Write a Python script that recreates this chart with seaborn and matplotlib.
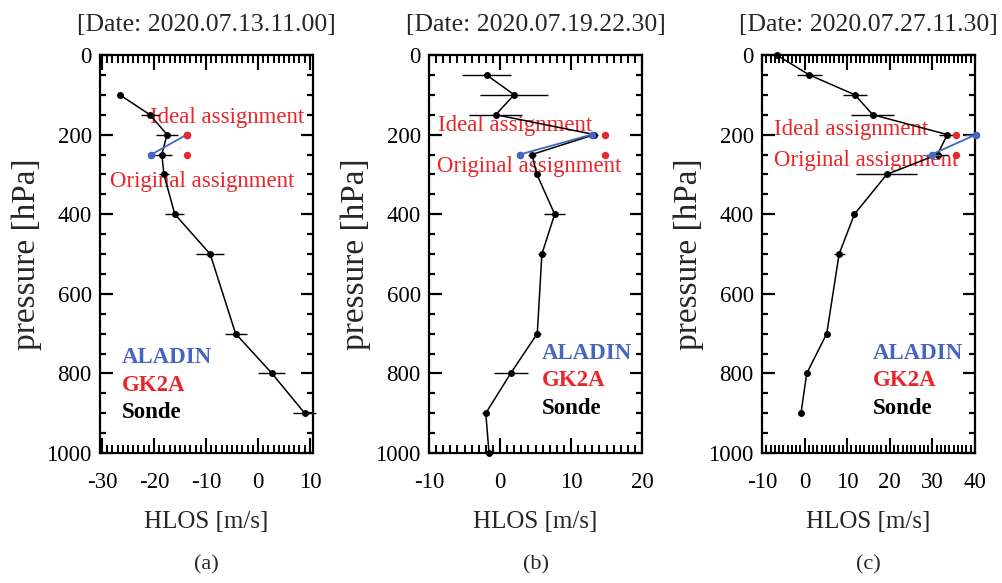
import matplotlib
matplotlib.use("Agg")
import matplotlib.pyplot as plt
import seaborn as sns
import numpy as np
import pandas as pd

# ---------------- data ----------------
titles = ["[Date: 2020.07.13.11.00]", "[Date: 2020.07.19.22.30]", "[Date: 2020.07.27.11.30]"]
panel_tags = ["(a)", "(b)", "(c)"]
legend_labels = ["ALADIN", "GK2A", "Sonde"]
note_ideal = "Ideal assignment"
note_orig = "Original assignment"
xlabel_text = "HLOS [m/s]"
ylabel_text = "pressure [hPa]"
pressure_ticks = [0, 200, 400, 600, 800, 1000]

# panel (a)
sonde_a_p = [100, 150, 200, 250, 300, 400, 500, 700, 800, 900]
sonde_a_v = [-26.6, -20.8, -17.5, -18.5, -18.1, -16.0, -9.2, -4.3, 2.7, 9.0]
sonde_a_e = [0.0, 1.75, 2.1, 1.9, 1.0, 1.8, 2.7, 2.1, 2.6, 2.2]
aladin_a_p = [250, 200]
aladin_a_v = [-20.5, -13.7]
aladin_a_e = [0.0, 0.0]
gk2a_a_p = [200, 250]
gk2a_a_v = [-13.6, -13.6]
xticks_a = [-30, -20, -10, 0, 10]

# panel (b)
sonde_b_p = [50, 100, 150, 200, 250, 300, 400, 500, 700, 800, 900, 1000]
sonde_b_v = [-1.9, 2.0, -0.6, 13.3, 4.5, 5.2, 7.7, 5.9, 5.25, 1.5, -2.0, -1.55]
sonde_b_e = [3.45, 4.8, 3.75, 0.5, 0.6, 0.3, 1.45, 0.6, 0.5, 2.4, 0.5, 0.0]
aladin_b_p = [250, 200]
aladin_b_v = [2.8, 12.9]
aladin_b_e = [0.0, 0.0]
gk2a_b_p = [200, 250]
gk2a_b_v = [14.8, 14.8]
xticks_b = [-10, 0, 10, 20]

# panel (c)
sonde_c_p = [0, 50, 100, 150, 200, 250, 300, 400, 500, 700, 800, 900]
sonde_c_v = [-6.55, 1.1, 11.8, 16.0, 33.5, 31.2, 19.3, 11.7, 8.1, 5.2, 0.5, -0.85]
sonde_c_e = [0.0, 3.0, 2.9, 5.0, 2.0, 2.5, 7.2, 0.0, 1.3, 0.0, 0.0, 0.0]
aladin_c_p = [250, 200]
aladin_c_v = [29.8, 40.2]
aladin_c_e = [2.1, 2.5]
gk2a_c_p = [200, 250]
gk2a_c_v = [35.5, 35.5]
xticks_c = [-10, 0, 10, 20, 30, 40]

# ---------------- style ----------------
sns.set_theme(style="ticks")
plt.rcParams["font.family"] = ["Liberation Serif", "DejaVu Serif"]

BLUE = "#4466c0"
RED = "#e8262b"
BLACK = "#000000"
FS = 16.5

fig = plt.figure(figsize=(10.02, 5.83), dpi=100)
W, H = 1002, 583


def ax_rect(left, right, top=55, bottom=453):
    return [left / W, (H - bottom) / H, (right - left) / W, (bottom - top) / H]


panels = [
    dict(rect=ax_rect(100, 313), xlim=(-30.4, 10.6), xticks=xticks_a,
         sp=sonde_a_p, sv=sonde_a_v, se=sonde_a_e,
         ap=aladin_a_p, av=aladin_a_v, ae=aladin_a_e,
         gp=gk2a_a_p, gv=gk2a_a_v,
         ideal=(0.596, 0.842), orig=(0.481, 0.681), leg=(0.103, 0.239)),
    dict(rect=ax_rect(429, 642), xlim=(-10, 20), xticks=xticks_b,
         sp=sonde_b_p, sv=sonde_b_v, se=sonde_b_e,
         ap=aladin_b_p, av=aladin_b_v, ae=aladin_b_e,
         gp=gk2a_b_p, gv=gk2a_b_v,
         ideal=(0.406, 0.822), orig=(0.469, 0.721), leg=(0.531, 0.251)),
    dict(rect=ax_rect(762, 975), xlim=(-10, 40), xticks=xticks_c,
         sp=sonde_c_p, sv=sonde_c_v, se=sonde_c_e,
         ap=aladin_c_p, av=aladin_c_v, ae=aladin_c_e,
         gp=gk2a_c_p, gv=gk2a_c_v,
         ideal=(0.420, 0.812), orig=(0.488, 0.734), leg=(0.521, 0.251)),
]

for i, P in enumerate(panels):
    ax = fig.add_axes(P["rect"])
    sonde = pd.DataFrame({"p": P["sp"], "v": P["sv"], "e": P["se"]})
    aladin = pd.DataFrame({"p": P["ap"], "v": P["av"], "e": P["ae"]})
    gk2a = pd.DataFrame({"p": P["gp"], "v": P["gv"]})

    # sonde error bars
    ax.errorbar(sonde["v"], sonde["p"], xerr=sonde["e"], fmt="none",
                ecolor=BLACK, elinewidth=1.0, capsize=0, clip_on=False, zorder=2)
    # sonde profile
    sns.lineplot(data=sonde, x="v", y="p", sort=False, estimator=None,
                 color=BLACK, linewidth=1.1, marker="o", markersize=5,
                 markeredgewidth=0, ax=ax, clip_on=False, zorder=3)
    # ALADIN
    if aladin["e"].sum() > 0:
        ax.errorbar(aladin["v"], aladin["p"], xerr=aladin["e"], fmt="none",
                    ecolor=BLUE, elinewidth=1.0, capsize=0, zorder=4)
    sns.lineplot(data=aladin, x="v", y="p", sort=False, estimator=None,
                 color=BLUE, linewidth=1.3, marker="o", markersize=5.5,
                 markeredgewidth=0, ax=ax, clip_on=False, zorder=4)
    # GK2A
    sns.scatterplot(data=gk2a, x="v", y="p", color=RED, s=28, linewidth=0,
                    ax=ax, clip_on=False, zorder=5)

    # annotations
    ax.text(*P["ideal"], note_ideal, transform=ax.transAxes, color=RED,
            fontsize=FS, ha="center", va="center", zorder=1)
    ax.text(*P["orig"], note_orig, transform=ax.transAxes, color=RED,
            fontsize=FS, ha="center", va="center", zorder=1)
    lx, ly = P["leg"]
    for j, (lab, col) in enumerate(zip(legend_labels, [BLUE, RED, BLACK])):
        ax.text(lx, ly - j * 0.069, lab, transform=ax.transAxes, color=col,
                fontsize=FS, fontweight="bold", ha="left", va="center")

    # axes
    x0, x1 = P["xlim"]
    ax.set_xlim(x0, x1)
    ax.set_ylim(1000, 0)
    ax.set_xticks(P["xticks"])
    ax.set_xticklabels([str(t) for t in P["xticks"]])
    minor_x = [v for v in range(int(np.ceil(x0)), int(np.floor(x1)) + 1)
               if v % 10 != 0]
    ax.set_xticks(minor_x, minor=True)
    ax.set_yticks(pressure_ticks)
    ax.set_yticklabels([str(t) for t in pressure_ticks])
    ax.set_yticks([v for v in range(0, 1001, 50) if v % 200 != 0], minor=True)
    ax.tick_params(axis="both", which="both", direction="in", top=True,
                   right=True, bottom=True, left=True, colors=BLACK,
                   labelsize=FS)
    ax.tick_params(axis="x", which="major", length=11, width=1.5, pad=14)
    ax.tick_params(axis="x", which="minor", length=6, width=1.4)
    ax.tick_params(axis="y", which="major", length=9, width=1.6, pad=6)
    ax.tick_params(axis="y", which="minor", length=4.5, width=1.6)
    for s in ax.spines.values():
        s.set_linewidth(1.6)
        s.set_color(BLACK)

    ax.set_xlabel(xlabel_text, fontsize=18, labelpad=13)
    ax.set_ylabel(ylabel_text, fontsize=24, labelpad=3)
    ax.set_title(titles[i], fontsize=18.5, pad=17)

    cx = (P["rect"][0] + P["rect"][2] / 2)
    fig.text(cx, (H - 565) / H, panel_tags[i], fontsize=16, ha="center", va="center")

fig.savefig("out.png", dpi=100)
